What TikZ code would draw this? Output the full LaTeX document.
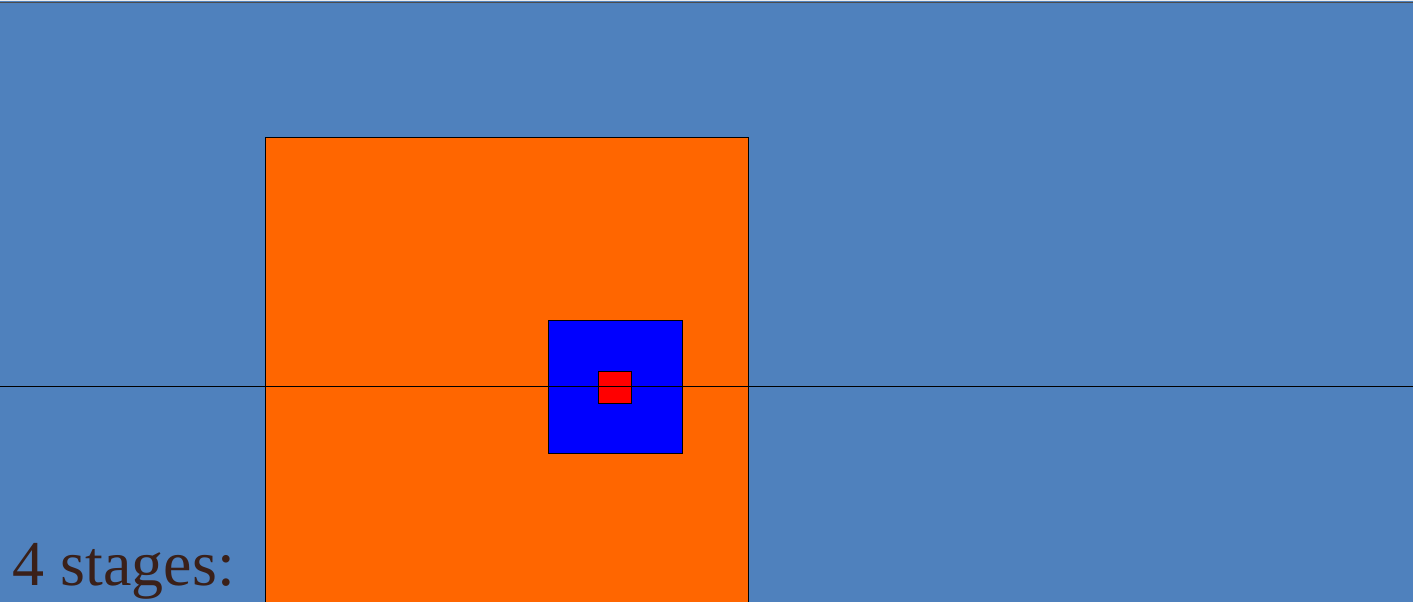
\documentclass[tikz,border=0pt]{standalone}
\usepackage{fontspec}
\setmainfont{Liberation Serif}
\definecolor{bgblue}{HTML}{4F81BD}
\definecolor{orng}{HTML}{FF6600}
\definecolor{txtbrown}{HTML}{3A2019}
\tikzset{
  box/.style={draw=black, line width=1.4pt, inner sep=0pt, anchor=north west},
}
\begin{document}
\begin{tikzpicture}[x=1pt,y=-1pt]
\useasboundingbox (0,0) rectangle (1413,602);
\begin{scope}
\clip (0,0) rectangle (1413,602);
\fill[bgblue] (0,0) rectangle (1413,602);
\fill[white!85!gray] (0,0) rectangle (1413,1.5);
\draw[gray!60!black, line width=1.2pt] (0,2.5) -- (1413,2.5);
\node[box, fill=orng, minimum width=483pt, minimum height=480pt] (outer) at (265,137) {};
\node[box, fill=blue, minimum width=134pt, minimum height=133pt] (mid) at (548,320) {};
\node[box, fill=red, minimum width=33pt, minimum height=32pt] (inner) at (598,371) {};
\coordinate (lineL) at (0,386.5);
\coordinate (lineR) at (1413,386.5);
\draw[black, line width=1.4pt] (lineL) -- (lineR);
\node[anchor=base west, inner sep=0pt, text=txtbrown, font=\fontsize{64}{70}\selectfont] (label) at (12.5,585) {4 stages:};
\end{scope}
\end{tikzpicture}
\end{document}
